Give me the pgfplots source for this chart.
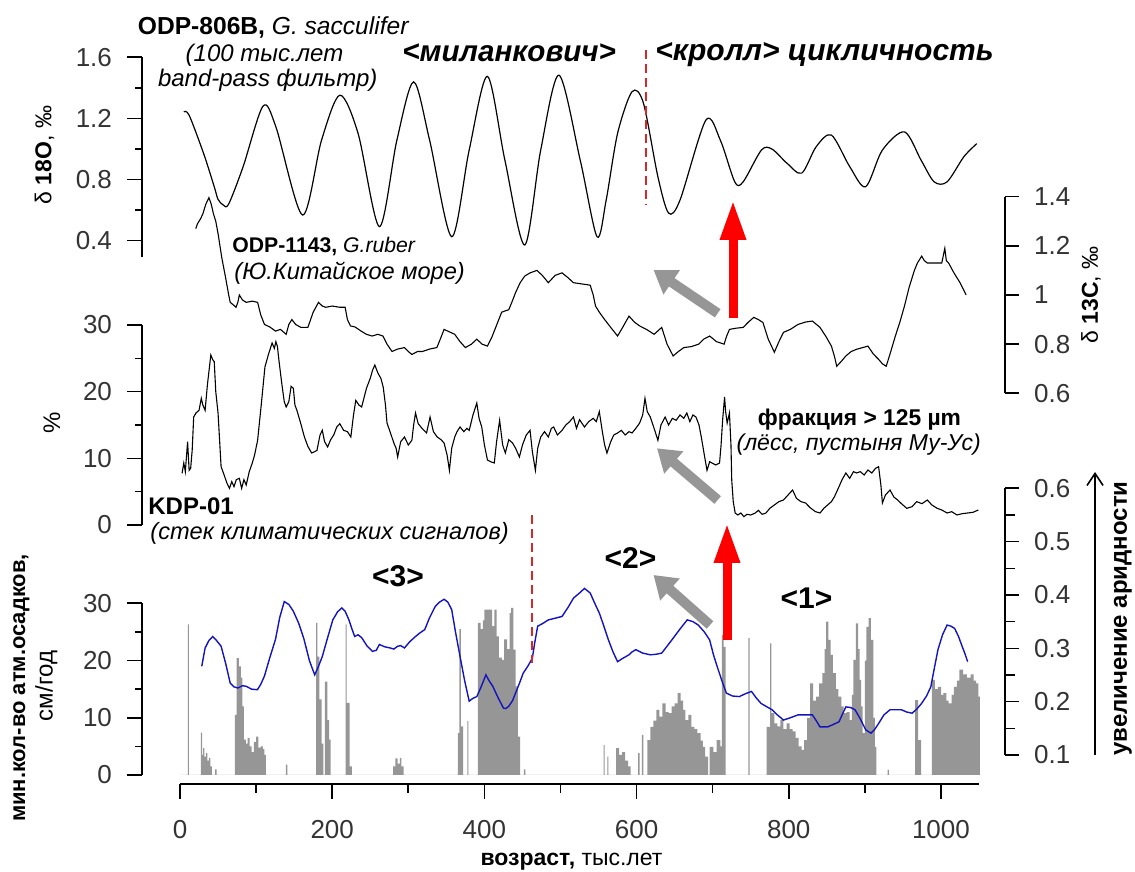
\documentclass[border=0pt]{standalone}
\usepackage{fontspec}
\setmainfont{Liberation Sans}
\usepackage{pgfplots}
\pgfplotsset{compat=1.18}
\usetikzlibrary{arrows.meta}
\definecolor{bargray}{RGB}{150,150,150}
\definecolor{lineblue}{RGB}{20,20,190}
\definecolor{arrgray}{RGB}{150,150,150}
\definecolor{dashred}{RGB}{215,40,40}
\newcommand\ticks{\fontsize{13}{15}\selectfont}
\pgfplotsset{
 panel/.style={scale only axis, width=431.5pt, xmin=-49.93, xmax=1084.1, clip=false,
   anchor=south west, axis x line=none, tick align=outside,
   major tick length=7.5pt, minor tick length=3.5pt,
   axis line style={line width=0.8pt, black},
   tick style={line width=0.8pt, black},
   /pgf/number format/assume math mode=true,
   ticklabel style={font=\ticks, text=black!80}},
 leftax/.style={axis y line*=left, yticklabel style={xshift=-4pt}},
 rightax/.style={axis y line*=right, yticklabel style={xshift=4pt}},
}
\begin{document}
\begin{tikzpicture}
\path[use as bounding box] (0,0) rectangle (567.5pt,436pt);

% ---------- panel 1: delta 18O ----------
\begin{axis}[panel, leftax, at={(71pt,307.25pt)}, height=100.1pt, ymin=0.29, ymax=1.6,
  ytick={0.4,0.8,1.2,1.6}, minor ytick={0.6,1.0,1.4},
  yticklabel style={/pgf/number format/.cd, fixed, fixed zerofill, precision=1}]
\addplot[black, line width=0.6pt, smooth] coordinates {
(5,1.243)(12,1.221)(31,0.971)(45,0.753)(50,0.67)(57,0.633)(64,0.64)(83,0.885)(109,1.28)
(126,1.145)(161,0.568)(186,1.058)(210,1.352)(234,1.102)(262,0.492)(285,1.058)(307,1.439)
(328,1.058)(357,0.426)(380,0.993)(404,1.475)(427,0.925)(453,0.372)(474,0.993)(498,1.483)
(526,0.925)(548,0.426)(560,0.665)(575,1.102)(594,1.375)(609,1.30)(628,0.818)(642,0.581)
(657,0.665)(691,1.189)(710,1.058)(729,0.785)(740,0.785)(764,0.993)(778,0.999)(798,0.905)
(817,0.842)(836,1.015)(856,1.091)(880,0.885)(901,0.753)(923,0.993)(952,1.112)(974,0.925)
(991,0.785)(1008,0.785)(1030,0.949)(1047,1.035)};
\end{axis}

% ---------- panel 2: delta 13C ----------
\begin{axis}[panel, rightax, at={(71pt,239.35pt)}, height=98.3pt, ymin=0.6, ymax=1.4,
  ytick={0.6,0.8,1,1.2,1.4}, major tick length=7pt]
\addplot[black, line width=0.55pt] coordinates {
(20.7,1.27)(23,1.29)(25,1.30)(27,1.31)(30,1.33)(34,1.37)(38,1.396)(41,1.37)(44,1.33)(47,1.30)
(50,1.25)(55,1.15)(59.6,1.076)(64,1.0)(66,0.97)(70,0.96)(73.6,0.95)(76,0.97)(78,1.0)(82,0.98)
(87,0.97)(95,0.975)(102,0.97)(106,0.92)(111,0.88)(118,0.87)(125.5,0.853)(132,0.86)(139.5,0.84)
(143,0.88)(147,0.90)(152,0.88)(159,0.868)(168,0.868)(175,0.93)(182,0.97)(187,0.955)(191.5,0.95)
(200,0.955)(210,0.95)(217,0.95)(220,0.90)(224,0.874)(230,0.87)(238,0.853)(245,0.84)(252.5,0.833)
(260,0.84)(266.7,0.833)(272,0.80)(278.6,0.77)(286,0.78)(295,0.786)(300,0.77)(304.7,0.758)
(312,0.77)(318.6,0.77)(328,0.78)(337.5,0.786)(342,0.82)(347,0.86)(354,0.85)(361,0.84)(368,0.81)
(375,0.786)(383,0.80)(390,0.82)(397,0.80)(404,0.792)(410,0.83)(415.6,0.874)(422.7,0.93)(427,0.935)
(432,0.94)(436,0.97)(441,1.01)(447,1.05)(453,1.077)(460,1.09)(469,1.10)(476,1.08)(484,1.05)
(493,1.08)(502,1.09)(510,1.07)(517,1.05)(528,1.045)(539,1.04)(543,1.00)(546,0.955)(551,0.93)
(558,0.90)(566,0.868)(575,0.833)(582,0.87)(590,0.914)(597,0.89)(604,0.874)(613,0.86)(623,0.84)
(633,0.868)(640,0.80)(648,0.752)(655,0.77)(662,0.786)(672,0.79)(681.6,0.80)(688,0.82)(696,0.833)
(705,0.81)(715,0.80)(718,0.83)(722,0.86)(731,0.865)(740,0.868)(747,0.89)(754,0.909)(760,0.90)
(766,0.888)(773,0.82)(781,0.767)(787,0.81)(793,0.848)(802,0.86)(812,0.88)(822,0.89)(831,0.894)
(841,0.868)(849,0.83)(856,0.792)(860,0.75)(863,0.71)(869,0.73)(875,0.752)(882,0.77)(889,0.779)
(896,0.785)(904,0.792)(911,0.76)(918,0.738)(923,0.72)(928,0.71)(934,0.77)(940,0.833)(946,0.89)
(952,0.955)(958,1.03)(965,1.10)(969,1.13)(974.6,1.158)(978,1.14)(982,1.13)(990,1.13)(1001,1.13)
(1003,1.16)(1005,1.19)(1007,1.14)(1010,1.13)(1017,1.09)(1025,1.05)(1033,1.00)};
\end{axis}

% ---------- panel 3: fraction > 125 um ----------
\begin{axis}[panel, leftax, at={(71pt,173.5pt)}, height=100pt, ymin=0, ymax=30,
  ytick={0,10,20,30}, minor ytick={5,15,25}]
\addplot[black, line width=0.55pt] coordinates {
(2.7,7.75)(5,9.3)(7,8.0)(10,12.5)(12,8.2)(14,8.5)(16,11.2)(18,16.2)(21,16.8)(25,17.2)(28,19)
(30,18.0)(33,17.2)(36,21)(40.5,25.5)(43,24.8)(45,24.5)(47,20)(50,16.8)(54,8.75)(58,7.5)(61.6,6.3)
(65,5.5)(68,6.5)(71,5.75)(74,6.8)(78,7.0)(81,5.5)(84,6.8)(87,6.0)(91,8.0)(95,9.3)(98,10.5)
(102,12.7)(107,18.3)(111.6,23.7)(116,25.5)(121,27.3)(124,26.5)(126,27.5)(128,26.8)(130,24.7)
(134,21)(137,18.5)(139.5,17.7)(143,18.5)(146,20.8)(149,20.5)(151,18)(153.6,17.2)(158,15.5)
(163.5,13.2)(168,11.8)(173,10.8)(177,11.0)(180,11.2)(184,13.5)(187,14.2)(190,12.5)(194,11.7)
(198,12.8)(202,13.5)(206,14.7)(210,15.2)(215,14.2)(220,14.0)(224.5,13.2)(228,16.5)(231,18.7)
(235,18.0)(238.7,17.7)(245,20.5)(250,22.0)(253,23.2)(256,24.0)(260,22.8)(264,22.0)(267,20.7)
(270,18.0)(272,15.3)(276,14.0)(281,12.3)(284,11.5)(286,10.2)(290,12.5)(295,13.2)(300,12.0)
(304.7,12.7)(307,15.0)(309.5,16.8)(313,15.2)(318,14.5)(324,13.8)(328.6,16.2)(333,14.0)(338,13.2)
(343,12.8)(347,12.3)(351,10.5)(354,8.2)(357,11.5)(361,13.2)(364,14.0)(368,14.7)(373,14.0)
(377,14.5)(380,14.2)(385,16.5)(390,18.3)(393,16.0)(396.5,14.7)(400,12.0)(404,9.75)(408,9.5)
(413,9.3)(416,12.5)(420,15.7)(424,12.0)(427.5,10.8)(432,12.8)(437,12.3)(441,11.5)(446,10.2)
(450,12.0)(455,13.5)(460,14.2)(463,11.0)(467,8.2)(470,11.5)(474,13.2)(479,14.0)(484,13.2)
(488,14.5)(491,14.7)(496,13.5)(502,14.2)(507,15.0)(512,15.5)(517,16.2)(521,14.5)(525,15.8)
(531.5,14.7)(537,15.5)(543,16.0)(547,15.5)(551,17.0)(555,14.0)(558,12.0)(561,10.8)(566,12.5)
(570,13.5)(575,13.8)(580,14.2)(585,13.5)(590,14.0)(594,13.8)(599,14.5)(604,15.3)(608,16.5)
(611,19.0)(614,17.0)(618,16.2)(623,14.5)(628,12.7)(632,15.0)(637.5,16.2)(642,15.0)(647,16.0)
(652,15.7)(657,16.5)(662,16.0)(666,16.8)(670,15.5)(674,16.5)(678,16.2)(682,15.0)(685,13.2)
(689,10.5)(692.5,8.2)(696,9.5)(699,9.3)(704,9.0)(709,9.3)(711,12.0)(713,15.7)(715.6,19.2)
(717,17.0)(719,15.3)(722,16.8)(724,12.0)(725,6.75)(727,3.5)(729.5,1.8)(733,1.5)(737,1.8)
(741,1.25)(745,1.6)(750,1.5)(756,1.8)(760,2.2)(765,1.6)(770,1.8)(775,2.5)(781,3.0)(787,3.5)
(793,3.75)(799,4.5)(805,5.25)(810,4.0)(816,3.5)(822,3.3)(828,2.6)(835,2.0)(841,1.8)(846,2.5)
(851,3.0)(856,3.5)(860,4.25)(865,5.5)(870,6.8)(875,7.8)(880,7.0)(885,8.0)(889,7.8)(894,8.0)
(899,7.5)(904,8.25)(909,7.8)(914,8.5)(918,8.75)(921,6.0)(923,3.3)(927,4.5)(933,5.25)(938,4.2)
(943,3.75)(948,3.2)(955,2.5)(962,2.75)(968,3.5)(975,3.2)(982,3.75)(988,3.0)(995,2.5)(1001,2.25)
(1008,1.8)(1014,2.0)(1021,1.5)(1028,1.7)(1035,1.8)(1042,1.9)(1049,2.25)};
\end{axis}

% ---------- panel 4: precipitation (left) + bars ----------
\begin{axis}[panel, leftax, at={(71pt,48.5pt)}, height=85.85pt, ymin=0, ymax=30,
  ytick={0,10,20,30}, minor ytick={5,15,25}]
\addplot[const plot, fill=bargray, draw=none] coordinates {
(0,0)(10.2,26.3)(11.6,0)
(27.5,7.4)(29,3.5)(30.5,4.7)(32,3.2)(34,3.8)(36,2.5)(38,3.0)(40,1.5)(42,0)(46,1.0)(48,0)
(72,10.5)(74.5,20.4)(77.5,19)(80,17)(82,12)(84,6.2)(86.5,5.5)(89,6.5)(91.5,5.0)(94,4.0)(97,5.8)
(100,6.7)(103,4.8)(106,5.0)(109,4.5)(111,3.5)(113,0)
(139,1.8)(141,0)
(179,26.6)(180.5,20.7)(183,13.2)(186,5.5)(188.5,0)(190.5,16.3)(193.5,9.6)(196,6.2)(198,0)
(217.5,26.3)(219,12.6)(223,1.5)(226,0)
(280,1.5)(283,2.9)(286,2.0)(289,3.0)(291,1.5)(294,0)
(365,7.3)(367,25.5)(369,8.5)(372,0)
(377.5,9.4)(379,0)
(391.5,26.6)(395,25.5)(398,27)(400,28.9)(406,28.9)(410,26)(413,28.9)(416,24.2)(419,20.5)
(423,20.1)(426,23.7)(430,22)(433,28.3)(435,29.2)(438,21.9)(441,15.5)(444,6.7)(447,0)(452,1.0)(454,0)
(556.5,5.2)(558,0)(561.5,3.2)(563,0)
(573,4.7)(577,3.5)(581,4.0)(585,2.5)(589,1.5)(592,0)
(602,3.8)(604,0)(607,7.0)(609,0)
(614,6.1)(618,8.4)(622,9.5)(626,11.4)(630,10.2)(634,12.5)(638,11.0)(642,10.8)(646,12.0)(650,12.5)
(654,14.3)(658,13.0)(661,11.4)(664,9.6)(668,10.5)(672,8.4)(676,8.0)(680,7.3)(684,6.0)(687,4.9)
(690,3.2)(694,0)
(696,4.9)(701,4.0)(705,6.1)(710,5.0)(712,24.5)(714.5,22.4)(717,0)
(747,23.9)(748.5,0)
(771,8.4)(775.5,23.0)(777,10.8)(781,9.0)(785,8.5)(789,9.6)(793,8.0)(797,9.0)(801,8.0)(805,7.6)
(809,6.5)(813,5.0)(817,4.4)(820,6.1)(824,10.0)(828,16.0)(832,13.0)(836,13.7)(840,16.0)(844,17.8)
(847,22.0)(849,26.8)(852,23.6)(855,21.0)(858,17.8)(862,15.0)(865,13.7)(869,12.0)(872,10.8)
(876,11.0)(880,9.6)(883,14.0)(885,20.1)(888,26.5)(891,22.0)(893,16.6)(895,12.0)(897,7.3)(900,20.0)
(902,25.9)(905,27.4)(908,23.6)(911,10.0)(913,4.9)(915,0)
(930,0.9)(931.5,0)
(966,13.1)(970,6.1)(974,0)
(988,16.6)(992,15.0)(996,15.4)(1000,14.0)(1003,14.3)(1007,13.0)(1010,12.5)(1014,14.0)(1017,15.4)
(1021,16.5)(1024,18.4)(1029,17.6)(1034,17.0)(1039,17.6)(1043,16.5)(1046,16.0)(1049,13.7)(1051,0)}
\closedcycle;
\addplot[lineblue, line width=0.7pt] coordinates {
(28.6,19.0)(33,22.2)(38,23.5)(43,24.2)(48,23.5)(54,22.5)(60,19.5)(66,16.05)(71,15.4)(76,15.2)
(82,15.6)(87,15.5)(94,15.0)(101.7,14.9)(106,15.8)(111,17.3)(118,20.5)(125.5,23.7)(131,27.5)
(137,30.3)(143,29.8)(149,28.6)(156,26.5)(163,23.7)(170,20.0)(177,17.5)(182,19.0)(187,20.7)
(194,24.0)(200.8,27.1)(207,28.5)(212.7,29.2)(217,28.6)(222,27.1)(226,25.5)(229.5,24.2)(234,24.5)
(238.7,24.0)(246,22.5)(253,21.6)(258,21.8)(262,22.8)(269,22.4)(276,22.2)(281,22.0)(286,22.5)
(290,22.6)(295,22.2)(302,23.3)(309.5,24.2)(315,24.8)(321.6,25.4)(328,27.5)(335.6,29.5)(341,30.2)
(347,30.7)(352,30.2)(357,28.9)(362,25.0)(368,20.7)(374,16.5)(380,12.9)(385,13.4)(390,13.7)
(396,15.5)(402,17.5)(406,16.5)(411,15.5)(418,13.5)(425,11.7)(428,11.6)(432,12.0)(437,13.0)
(441,14.35)(446,16.0)(451,17.8)(457,19.0)(463,20.4)(466,23.0)(470,26.0)(477,26.5)(484,27.1)
(493,27.4)(502,27.7)(510,29.3)(517,30.9)(525,31.8)(531.5,32.6)(539,31.8)(545,30.0)(551,28.3)
(557,26.0)(563,23.6)(569,21.5)(575,19.8)(582,20.4)(590,21.0)(594,21.5)(599,21.9)(608,21.3)
(618,21.0)(626,21.1)(633,21.3)(640,22.5)(648,23.9)(657,25.5)(666.5,27.1)(674,26.8)(681,26.2)
(689,25.0)(696,23.6)(701,21.0)(706,18.9)(712,16.5)(718,14.3)(726,13.8)(735,13.7)(743,14.2)
(751,14.6)(757,13.5)(763.6,12.5)(770,12.0)(778,11.4)(785,10.5)(793,9.6)(802,10.0)(812,10.5)
(822,10.5)(831,10.5)(836,9.5)(841,8.4)(851,8.4)(858,8.8)(866,9.3)(870,10.5)(875,11.9)(881,11.8)
(887,11.4)(894,9.8)(901,7.9)(908,7.3)(913,8.0)(918,9.0)(925,10.5)(933,11.4)(940,11.4)(948,11.4)
(955,11.0)(962,10.8)(968,11.5)(974.5,12.5)(981,13.8)(986.6,15.4)(991,18.5)(996,21.9)(1002,24.5)
(1008,26.2)(1013,26.0)(1018,25.6)(1023,24.2)(1028,22.4)(1032,21.0)(1035,19.8)};
\end{axis}

% ---------- panel 4: right axis ----------
\begin{axis}[panel, rightax, at={(71pt,58.5pt)}, height=133.35pt, ymin=0.1, ymax=0.6,
  ytick={0.1,0.2,0.3,0.4,0.5,0.6}, minor ytick={0.15,0.25,0.35,0.45,0.55},
  major tick length=7pt, minor tick length=5pt]
\end{axis}

% ---------- x axis ----------
\begin{axis}[scale only axis, width=399.5pt, height=10pt, at={(90pt,44pt)}, anchor=south west,
  xmin=0, xmax=1050, ymin=0, ymax=1, axis x line*=bottom, axis y line=none,
  xtick={0,200,400,600,800,1000}, minor xtick={100,300,500,700,900},
  tick align=outside, major tick length=7.5pt, minor tick length=4.5pt,
  axis line style={line width=0.8pt, black}, tick style={line width=0.8pt, black},
  /pgf/number format/assume math mode=true, /pgf/number format/set thousands separator={},
  xticklabel style={font=\ticks, text=black!80, yshift=-7pt}]
\end{axis}

% ---------- annotations (pixel coordinates, y downward) ----------
\begin{scope}[x=0.5pt,y=-0.5pt,yshift=436pt]
% dashed red lines
\draw[dashred, line width=0.7pt, dash pattern=on 4.5pt off 2.5pt] (646,50) -- (646,205);
\draw[dashred, line width=0.7pt, dash pattern=on 4.5pt off 2.5pt] (532,515) -- (532,663);
% grey arrows
\draw[arrgray, line width=5pt, -{Triangle[width=14pt,length=11pt]}] (717.7,313.3) -- (653.5,270);
\draw[arrgray, line width=5pt, -{Triangle[width=14pt,length=11pt]}] (717.7,500) -- (657,448.3);
\draw[arrgray, line width=5pt, -{Triangle[width=14pt,length=11pt]}] (710,625) -- (653.5,575);
% red arrows
\draw[red, line width=4.5pt, -{Triangle[width=12pt,length=20pt]}] (733,318) -- (733,200);
\draw[red, line width=4.5pt, -{Triangle[width=12pt,length=20pt]}] (727,640) -- (727,523);
% aridity arrow
\draw[black, line width=0.8pt, -{Straight Barb[length=6pt,width=8pt]}] (1095,755) -- (1095,472);

% texts
\node[anchor=west, inner sep=0, font=\fontsize{12.3}{14}\selectfont] at (137.5,28)
  {\textbf{ODP-806B,} \textit{G. sacculifer}};
\node[inner sep=0, font=\fontsize{12}{14}\selectfont\itshape] at (264.5,55) {(100 тыс.лет};
\node[inner sep=0, font=\fontsize{12}{14}\selectfont\itshape] at (267.7,80) {band-pass фильтр)};
\node[anchor=west, inner sep=0, font=\fontsize{14.8}{16}\selectfont\bfseries\itshape] at (402,53) {<миланкович>};
\node[anchor=west, inner sep=0, font=\fontsize{15}{16}\selectfont\bfseries\itshape] at (655,55) {<кролл> цикличность};
\node[rotate=90, inner sep=0, font=\fontsize{11.5}{13}\selectfont] at (44.6,155) {δ \textbf{18O}, ‰};
\node[anchor=west, inner sep=0, font=\fontsize{10.6}{13}\selectfont] at (232,246.7)
  {\textbf{ODP-1143,} \textit{G.ruber}};
\node[anchor=west, inner sep=0, font=\fontsize{11.8}{13}\selectfont\itshape] at (234,273.3) {(Ю.Китайское море)};
\node[rotate=90, inner sep=0, font=\fontsize{11.5}{13}\selectfont] at (1091,295) {δ \textbf{13C}, ‰};
\node[rotate=90, inner sep=0, font=\fontsize{12}{14}\selectfont] at (51.8,423) {\%};
\node[inner sep=0, font=\fontsize{11.4}{13}\selectfont\bfseries] at (859.5,420) {фракция > 125 µm};
\node[inner sep=0, font=\fontsize{11.5}{13}\selectfont\itshape] at (858.7,445) {(лёсс, пустыня Му-Ус)};
\node[anchor=west, inner sep=0, font=\fontsize{12}{14}\selectfont\bfseries] at (148,506.7) {KDP-01};
\node[anchor=west, inner sep=0, font=\fontsize{11.8}{13}\selectfont\itshape] at (150,533.3) {(стек климатических сигналов)};
\node[inner sep=0, font=\fontsize{15}{17}\selectfont\bfseries] at (398,576.7) {<3>};
\node[inner sep=0, font=\fontsize{15}{17}\selectfont\bfseries] at (630.5,558) {<2>};
\node[inner sep=0, font=\fontsize{15}{17}\selectfont\bfseries] at (806.5,598) {<1>};
\node[rotate=90, inner sep=0, font=\fontsize{11}{13}\selectfont\bfseries] at (21.4,688) {мин.кол-во атм.осадков,};
\node[rotate=90, inner sep=0, font=\fontsize{12}{14}\selectfont] at (46.4,686) {см/год};
\node[inner sep=0, font=\fontsize{11.5}{13}\selectfont] at (571.5,861.7) {\textbf{возраст,} тыс.лет};
\node[rotate=90, inner sep=0, font=\fontsize{12}{14}\selectfont\bfseries] at (1123,618.5) {увеличение аридности};
\end{scope}
\end{tikzpicture}
\end{document}
